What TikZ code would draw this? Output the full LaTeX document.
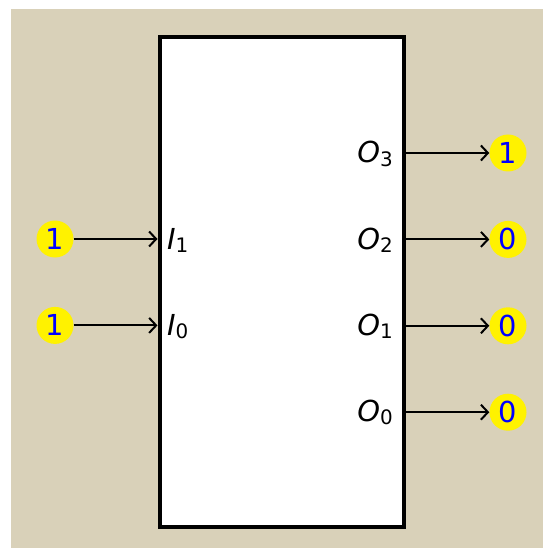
\documentclass[tikz,border=0pt]{standalone}
\usepackage{fontspec}
\setmainfont{DejaVu Sans}
\usetikzlibrary{positioning, arrows.meta}
\definecolor{bgtan}{RGB}{217,209,185}
\newcommand{\portlabel}[2]{\textit{#1}\raisebox{-0.25ex}{\fontsize{20}{22}\selectfont #2}}

\begin{document}
\begin{tikzpicture}[x=1bp, y=-1bp,
        bit/.style={circle, fill=yellow, text=blue, inner sep=0pt, minimum size=37bp, font=\fontsize{29}{32}\selectfont},
        lbl/.style={inner sep=0pt, font=\fontsize{29}{32}\selectfont},
        wire/.style={->, line width=2bp},
        >={Straight Barb[length=7bp, width=15bp]}]
        \useasboundingbox (0,0) rectangle (543,548);
        \fill[bgtan] (11,9) rectangle (543,548);
        \node[draw, line width=4bp, fill=white, inner sep=0pt, minimum width=244.5bp, minimum height=489.5bp] (dec) at (281.75,281.75) {};
        %---------------------------
        \node[bit] (in1) at (55,239) {1};
        \node[bit, below=49bp of in1] (in0) {1};
        \node[bit] (out3) at (508,153) {1};
        \node[bit, below=49bp of out3] (out2) {0};
        \node[bit, below=49bp of out2] (out1) {0};
        \node[bit, below=49bp of out1] (out0) {0};
        %---------------------------
        \node[lbl, anchor=base west] (i1) at (167,249) {\portlabel{I}{1}};
        \node[lbl, anchor=base west] (i0) at (167,335) {\portlabel{I}{0}};
        \node[lbl, anchor=base east] (o3) at (393,163) {\portlabel{O}{3}};
        \node[lbl, anchor=base east] (o2) at (393,249) {\portlabel{O}{2}};
        \node[lbl, anchor=base east] (o1) at (393,335) {\portlabel{O}{1}};
        \node[lbl, anchor=base east] (o0) at (393,421) {\portlabel{O}{0}};
        %--------------------------
        \draw[wire] (in1) -- (in1 -| dec.west);
        \draw[wire] (in0) -- (in0 -| dec.west);
        \draw[wire] (out3 -| dec.east) -- (out3);
        \draw[wire] (out2 -| dec.east) -- (out2);
        \draw[wire] (out1 -| dec.east) -- (out1);
        \draw[wire] (out0 -| dec.east) -- (out0);
\end{tikzpicture}
\end{document}
